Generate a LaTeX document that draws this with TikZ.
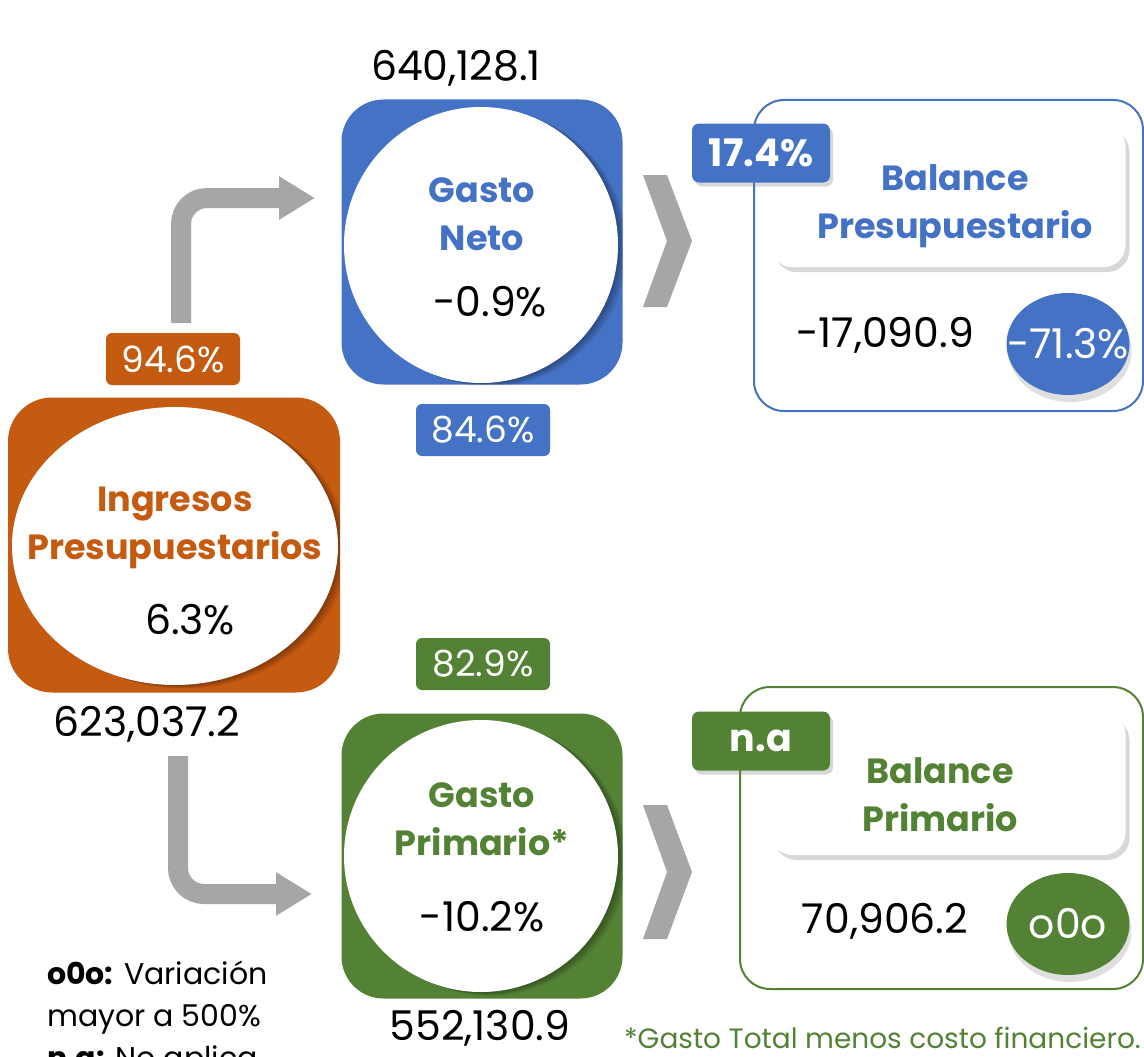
\documentclass[tikz,border=0pt]{standalone}
\usepackage{fontspec}
\setmainfont{Poppins}
\usetikzlibrary{shadows,arrows.meta,calc,shapes.geometric}
\definecolor{cOr}{HTML}{C55A11}
\definecolor{cBl}{HTML}{4472C4}
\definecolor{cGr}{HTML}{548235}
\definecolor{cGy}{HTML}{A6A6A6}
\begin{document}
\begin{tikzpicture}[x=1pt,y=-1pt,
  num/.style={font=\fontsize{41}{46}\selectfont, text=black, inner sep=0pt},
  ttl/.style={font=\fontsize{35}{48}\selectfont\bfseries, align=center, inner sep=0pt},
  lab/.style={rounded corners=6pt, text=white, font=\fontsize{36}{40}\selectfont, minimum width=134pt, minimum height=52pt, inner sep=0pt},
  tag/.style={rounded corners=7pt, text=white, font=\fontsize{38}{40}\selectfont\bfseries, minimum width=138pt, minimum height=59pt, inner sep=0pt, drop shadow={shadow xshift=3pt, shadow yshift=-4pt, opacity=0.3}},
  bigsq/.style={rounded corners=42pt, minimum width=281pt, minimum height=285pt, inner sep=0pt},
  circ/.style={ellipse, fill=white, inner sep=0pt},
  card/.style={fill=white, rounded corners=22pt, minimum width=355pt, minimum height=142pt, inner sep=0pt, drop shadow={shadow xshift=4pt, shadow yshift=-5pt, opacity=0.3}},
  outbox/.style={rounded corners=30pt, line width=2pt, fill=white},
  oval/.style={ellipse, minimum width=123pt, minimum height=102pt, inner sep=0pt, drop shadow={shadow xshift=2pt, shadow yshift=-7pt, opacity=0.25}},
  garrow/.style={draw=cGy, line width=20pt, rounded corners=26pt, -{Triangle[width=41pt,length=36pt]}},
  shd/.style={fill=black, opacity=0.06},
]
\useasboundingbox (0,0) rectangle (1144,1057);
\fill[white] (0,0) rectangle (1144,1057);

% ---------- Ingresos
\node[bigsq, fill=cOr, minimum width=332pt, minimum height=295pt, rounded corners=44pt] (ing) at (174,545) {};
\begin{scope}
\clip[rounded corners=44pt] (8,397) rectangle (340,692);
\foreach \i in {1,...,6}{\fill[shd] ($(175,546)+(1.5*\i,0.6*\i)$) ellipse [x radius=163, y radius=139];}
\end{scope}
\node[circ, minimum width=326pt, minimum height=278pt] (ingc) at (175,546) {};
\node[ttl, text=cOr] (ingt) at (175,528) {Ingresos\\Presupuestarios};
\node[num] (ingp) at (190,620) {6.3\%};
\node[num] (ingv) at (147,724) {623,037.2};
\node[lab, fill=cOr] (l946) at (173,359) {94.6\%};

% ---------- Gasto Neto
\node[bigsq, fill=cBl] (gn) at (482,242) {};
\begin{scope}
\clip[rounded corners=42pt] (342,100) rectangle (623,385);
\foreach \i in {1,...,6}{\fill[shd] ($(481,245)+(1.5*\i,0.6*\i)$) ellipse [x radius=137, y radius=138];}
\end{scope}
\node[circ, minimum width=274pt, minimum height=276pt] (gnc) at (481,245) {};
\node[ttl, text=cBl] (gnt) at (482,214) {Gasto\\Neto};
\node[num] (gnp) at (490,302) {-0.9\%};
\node[num] (gnv) at (456,68) {640,128.1};
\node[lab, fill=cBl] (l846) at (483,430) {84.6\%};

% ---------- Gasto Primario
\node[bigsq, fill=cGr] (gp) at (482,856) {};
\begin{scope}
\clip[rounded corners=42pt] (342,714) rectangle (623,998);
\foreach \i in {1,...,6}{\fill[shd] ($(481,856)+(1.5*\i,0.6*\i)$) ellipse [x radius=137, y radius=136];}
\end{scope}
\node[circ, minimum width=274pt, minimum height=272pt] (gpc) at (481,856) {};
\node[ttl, text=cGr] (gpt) at (482,819) {Gasto\\Primario*};
\node[num] (gpp) at (482,917) {-10.2\%};
\node[num] (gpv) at (480,1028) {552,130.9};
\node[lab, fill=cGr] (l829) at (483,664) {82.9\%};

% ---------- arrows
\coordinate (a1s) at (181,323);
\coordinate (a1e) at (315,198);
\coordinate (a2s) at (178,756);
\coordinate (a2e) at (312,894);
\draw[garrow] (a1s) |- (a1e);
\draw[garrow] (a2s) |- (a2e);

% chevrons
\fill[cGy] (643,175) -- (667,175) -- (692,241) -- (667,307) -- (643,307) -- (667,241) -- cycle;
\fill[cGy] (643,805) -- (667,805) -- (692,872) -- (667,939) -- (643,939) -- (667,872) -- cycle;

% ---------- Balance Presupuestario
\draw[outbox, draw=cBl] (754,100) rectangle (1143,411);
\node[card] (bpc) at (948,196) {};
\node[ttl, text=cBl] (bpt) at (955,206) {Balance\\Presupuestario};
\node[tag, fill=cBl] (t174) at (761,153) {17.4\%};
\node[num] (bpv) at (885,335) {-17,090.9};
\node[oval, fill=cBl] (bpo) at (1068,344) {};
\node[num, text=white] (bpot) at (1068,344) {-71.3\%};

% ---------- Balance Primario
\draw[outbox, draw=cGr] (740,687) rectangle (1143,989);
\node[card] (brc) at (948,784) {};
\node[ttl, text=cGr] (brt) at (940,795) {Balance\\Primario};
\node[tag, fill=cGr] (tna) at (761,741) {n.a};
\node[num] (brv) at (885,921) {70,906.2};
\node[oval, fill=cGr] (bro) at (1068,924) {};
\node[num, text=white] (brot) at (1068,924) {o0o};

% ---------- legend
\node[anchor=west, inner sep=0pt, font=\fontsize{30}{42}\selectfont, align=left] (leg) at (47,1019) {\textbf{o0o:} Variación\\mayor a 500\%\\\textbf{n.a:} No aplica};
\node[anchor=east, inner sep=0pt, font=\fontsize{28}{30}\selectfont, text=cGr] (foot) at (1141,1038) {*Gasto Total menos costo financiero.};
\end{tikzpicture}
\end{document}
